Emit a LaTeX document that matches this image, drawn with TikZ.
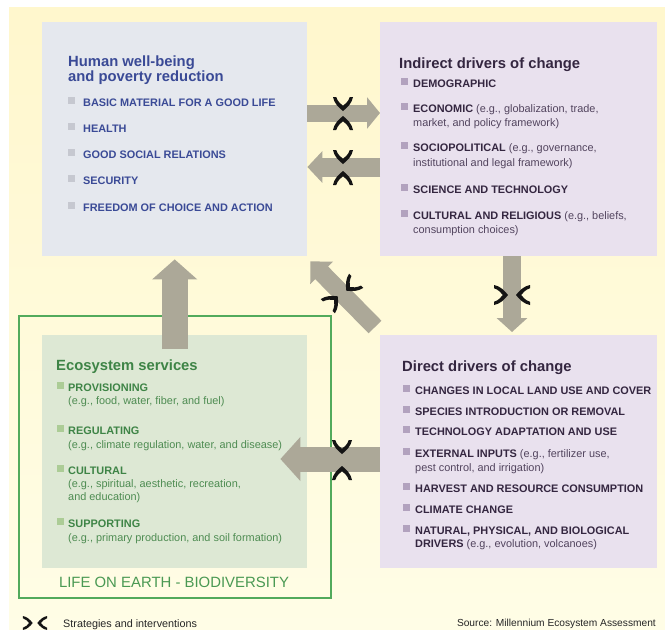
\documentclass[tikz,border=0pt]{standalone}
\usepackage{fontspec}
\setmainfont{Liberation Sans}
\usetikzlibrary{arrows.meta,calc}
\definecolor{bgtop}{RGB}{255,247,205}
\definecolor{bgbot}{RGB}{255,253,230}
\definecolor{hwfill}{RGB}{229,232,238}
\definecolor{hwtext}{RGB}{58,74,150}
\definecolor{hwbul}{RGB}{198,200,208}
\definecolor{drfill}{RGB}{233,225,238}
\definecolor{drtext}{RGB}{52,38,64}
\definecolor{drsub}{RGB}{82,68,94}
\definecolor{drbul}{RGB}{178,162,190}
\definecolor{ecfill}{RGB}{221,232,212}
\definecolor{ectext}{RGB}{62,132,70}
\definecolor{ecsub}{RGB}{78,140,82}
\definecolor{ecbul}{RGB}{172,204,150}
\definecolor{bioline}{RGB}{82,170,92}
\definecolor{arrcol}{RGB}{172,168,152}
\newcommand{\mttl}{\fontsize{14.8}{16}\selectfont\bfseries}
\newcommand{\mitf}{\fontsize{10.9}{12}\selectfont}
\newcommand{\mlab}{\fontsize{10.2}{12}\selectfont}
\newcommand{\mleg}{\fontsize{10.8}{12}\selectfont}
\newcommand{\itemrow}[7]{%
  \node[bul, fill=#2] (#1b) at (#3+3.5, #5-5.5) {};
  \node[txt, text=#6] (#1) at (#4, #5) {#7};}
\tikzset{
  txt/.style={anchor=base west, inner sep=0pt, font=\mitf},
  bul/.style={rectangle, inner sep=0pt, minimum size=6.5pt, anchor=center},
  boxnode/.style={rectangle, inner sep=0pt, anchor=north west},
  blk/.style={draw=arrcol},
  mk/.pic={\fill[black!92] (-13,10) .. controls (-7,9) and (-2.5,4.5) .. (1,0)
     .. controls (-2.5,-4.5) and (-7,-9) .. (-13,-10) -- (-13,-6.8)
     .. controls (-8.5,-5.2) and (-6,-2.6) .. (-4.2,0)
     .. controls (-6,2.6) and (-8.5,5.2) .. (-13,6.8) -- cycle;}
}
\begin{document}
\begin{tikzpicture}[x=1pt,y=-1pt]
\useasboundingbox (0,0) rectangle (665,630);
\fill[white] (0,0) rectangle (665,630);
\shade[top color=bgtop, bottom color=bgbot] (9,7) rectangle (665,630);

% frame and boxes
\node[boxnode, draw=bioline, line width=2pt, minimum width=312pt, minimum height=282pt] (bio) at (18,315) {};
\node[boxnode, fill=hwfill, minimum width=265pt, minimum height=234pt] (hw) at (42,22) {};
\node[boxnode, fill=drfill, minimum width=277pt, minimum height=234pt] (ind) at (380,22) {};
\node[boxnode, fill=drfill, minimum width=277pt, minimum height=233pt] (dir) at (380,335) {};
\node[boxnode, fill=ecfill, minimum width=265pt, minimum height=233pt] (eco) at (42,335) {};

% arrows
\draw[blk, line width=17pt, -{Triangle[width=31pt,length=13pt]}] (hw.east |- 0,113) -- (ind.west |- 0,113);
\draw[blk, line width=19pt, -{Triangle[width=31pt,length=15pt]}] (ind.west |- 0,167) -- (hw.east |- 0,167);
\draw[blk, line width=18pt, -{Triangle[width=30pt,length=14pt]}] (ind.south -| 512,0) -- ($(dir.north -| 512,0)+(0,-3)$);
\draw[blk, line width=18pt, -{Triangle[width=31pt,length=16pt]}] ($(dir.north west)+(-5,-8)$) -- ($(hw.south east)+(3,5)$);
\draw[blk, line width=26pt, -{Triangle[width=44pt,length=20pt]}] ($(eco.north)+(0,14)$) -- ($(hw.south)+(0,3)$);
\draw[blk, line width=25pt, -{Triangle[width=43pt,length=20pt]}] (dir.west |- 0,459) -- ($(eco.east |- 0,459)+(-27,0)$);

% strategies and interventions marks
\pic[rotate=-90] at (343,110) {mk};
\pic[rotate=90] at (343,117) {mk};
\pic[rotate=-90] at (343,163) {mk};
\pic[rotate=90] at (343,172) {mk};
\pic[rotate=-90] at (342,453) {mk};
\pic[rotate=90] at (342,467) {mk};
\pic[rotate=0] at (507,295) {mk};
\pic[rotate=180] at (517,295) {mk};
\pic[rotate=225] at (347,290) {mk};
\pic[rotate=45] at (337,297) {mk};

% Human well-being
\node[txt, font=\mttl, text=hwtext] (hwt1) at (68,66) {Human well-being};
\node[txt, font=\mttl, text=hwtext] (hwt2) at (68,81) {and poverty reduction};
\itemrow{hw1}{hwbul}{68}{83}{106}{hwtext}{\bfseries BASIC MATERIAL FOR A GOOD LIFE}
\itemrow{hw2}{hwbul}{68}{83}{132}{hwtext}{\bfseries HEALTH}
\itemrow{hw3}{hwbul}{68}{83}{158}{hwtext}{\bfseries GOOD SOCIAL RELATIONS}
\itemrow{hw4}{hwbul}{68}{83}{184}{hwtext}{\bfseries SECURITY}
\itemrow{hw5}{hwbul}{68}{83}{211}{hwtext}{\bfseries FREEDOM OF CHOICE AND ACTION}

% Indirect drivers
\node[txt, font=\mttl, text=drtext] (indt) at (399,68) {Indirect drivers of change};
\itemrow{in1}{drbul}{401}{413}{87}{drtext}{\textbf{DEMOGRAPHIC}}
\itemrow{in2}{drbul}{401}{413}{112}{drtext}{\textbf{ECONOMIC} \textcolor{drsub}{(e.g., globalization, trade,}}
\node[txt, text=drsub] (in2s) at (413,126) {market, and policy framework)};
\itemrow{in3}{drbul}{401}{413}{151}{drtext}{\textbf{SOCIOPOLITICAL} \textcolor{drsub}{(e.g., governance,}}
\node[txt, text=drsub] (in3s) at (413,166) {institutional and legal framework)};
\itemrow{in4}{drbul}{401}{413}{193}{drtext}{\textbf{SCIENCE AND TECHNOLOGY}}
\itemrow{in5}{drbul}{401}{413}{219}{drtext}{\textbf{CULTURAL AND RELIGIOUS} \textcolor{drsub}{(e.g., beliefs,}}
\node[txt, text=drsub] (in5s) at (413,233) {consumption choices)};

% Direct drivers
\node[txt, font=\mttl, text=drtext] (dirt) at (402,371) {Direct drivers of change};
\itemrow{di1}{drbul}{403}{415}{394}{drtext}{\textbf{CHANGES IN LOCAL LAND USE AND COVER}}
\itemrow{di2}{drbul}{403}{415}{415}{drtext}{\textbf{SPECIES INTRODUCTION OR REMOVAL}}
\itemrow{di3}{drbul}{403}{415}{435}{drtext}{\textbf{TECHNOLOGY ADAPTATION AND USE}}
\itemrow{di4}{drbul}{403}{415}{457}{drtext}{\textbf{EXTERNAL INPUTS} \textcolor{drsub}{(e.g., fertilizer use,}}
\node[txt, text=drsub] (di4s) at (415,471) {pest control, and irrigation)};
\itemrow{di5}{drbul}{403}{415}{492}{drtext}{\textbf{HARVEST AND RESOURCE CONSUMPTION}}
\itemrow{di6}{drbul}{403}{415}{513}{drtext}{\textbf{CLIMATE CHANGE}}
\itemrow{di7}{drbul}{403}{415}{534}{drtext}{\textbf{NATURAL, PHYSICAL, AND BIOLOGICAL}}
\node[txt, text=drtext] (di7s) at (415,547) {\textbf{DRIVERS} \textcolor{drsub}{(e.g., evolution, volcanoes)}};

% Ecosystem services
\node[txt, font=\mttl, text=ectext] (ect) at (56,370) {Ecosystem services};
\itemrow{es1}{ecbul}{57}{68}{391}{ectext}{\textbf{PROVISIONING}}
\node[txt, text=ecsub] (es1s) at (68,404) {(e.g., food, water, fiber, and fuel)};
\itemrow{es2}{ecbul}{57}{68}{434}{ectext}{\textbf{REGULATING}}
\node[txt, text=ecsub] (es2s) at (68,448) {(e.g., climate regulation, water, and disease)};
\itemrow{es3}{ecbul}{57}{68}{474}{ectext}{\textbf{CULTURAL}}
\node[txt, text=ecsub] (es3s) at (68,487) {(e.g., spiritual, aesthetic, recreation,};
\node[txt, text=ecsub] (es3t) at (68,500) {and education)};
\itemrow{es4}{ecbul}{57}{68}{527}{ectext}{\textbf{SUPPORTING}}
\node[txt, text=ecsub] (es4s) at (68,541) {(e.g., primary production, and soil formation)};

\node[anchor=base, inner sep=0pt, font=\fontsize{14.9}{16}\selectfont, text=bioline!90!black] (biot) at (174,587) {LIFE ON EARTH - BIODIVERSITY};

% legend and source
\pic[rotate=0, scale=0.7] at (32,623) {mk};
\pic[rotate=180, scale=0.7] at (38,623) {mk};
\node[txt, font=\mleg, text=black!85] (leg) at (63,627) {Strategies and interventions};
\node[anchor=base east, inner sep=0pt, font=\mlab, text=black!85] (src) at (656,626) {Source: Millennium Ecosystem Assessment};
\end{tikzpicture}
\end{document}
